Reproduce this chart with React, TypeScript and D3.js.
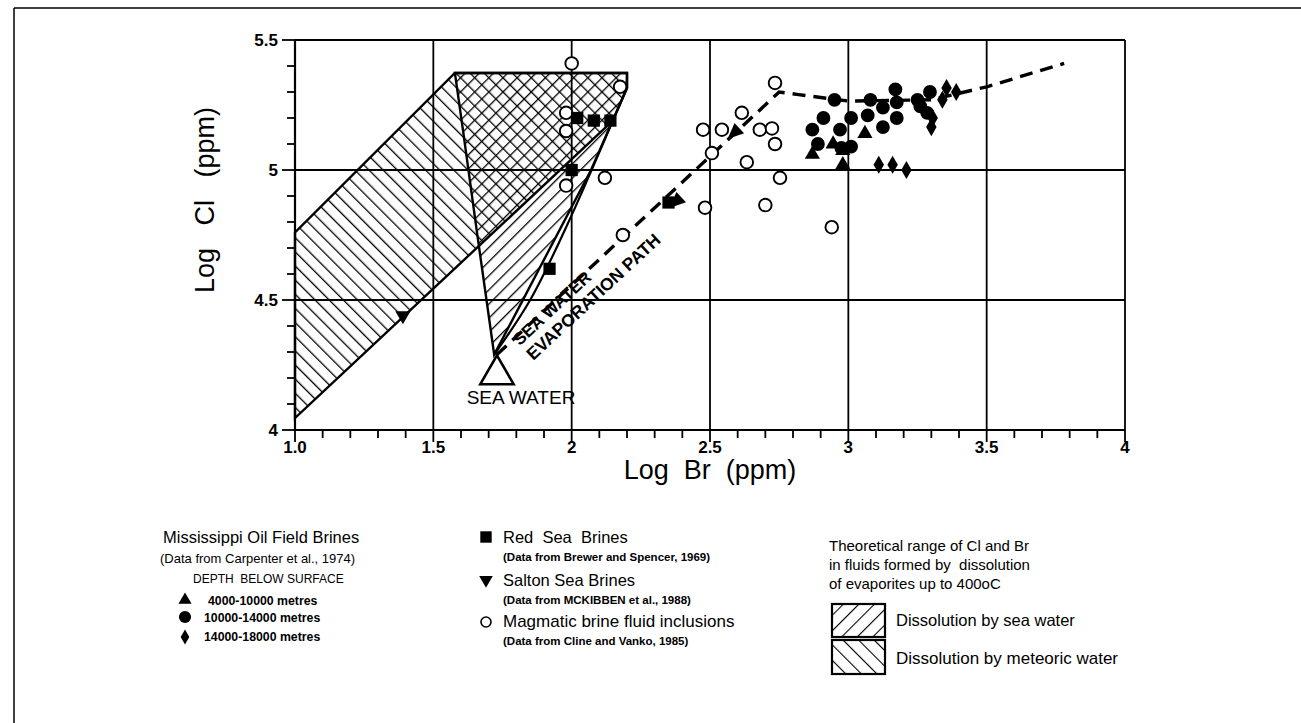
import React from "react";
import * as d3 from "d3";

const W = 1301;
const H = 723;

// Axis ticks
const xTicks = [1.0, 1.5, 2, 2.5, 3, 3.5, 4];
const xTickLabels = ["1.0", "1.5", "2", "2.5", "3", "3.5", "4"];
const yTicks = [4, 4.5, 5, 5.5];
const yTickLabels = ["4", "4.5", "5", "5.5"];

// Mississippi oil field brines by depth (log Br, log Cl)
const depth4to10: [number, number][] = [
  [2.87, 5.06], [2.945, 5.1], [3.06, 5.14], [2.98, 5.02], [2.98, 5.075],
];
const depth10to14: [number, number][] = [
  [2.95, 5.27], [2.91, 5.2], [2.87, 5.155], [2.89, 5.1], [2.97, 5.155],
  [3.01, 5.2], [3.01, 5.09], [3.07, 5.21], [3.08, 5.27], [3.125, 5.24],
  [3.125, 5.165], [3.17, 5.31], [3.175, 5.26], [3.175, 5.2], [3.25, 5.27],
  [3.26, 5.245], [3.295, 5.3], [3.285, 5.22], [2.975, 5.085],
];
const depth14to18: [number, number][] = [
  [3.11, 5.02], [3.16, 5.02], [3.21, 5.0], [3.3, 5.165], [3.34, 5.27],
  [3.355, 5.315], [3.39, 5.3], [3.305, 5.2],
];

// Red Sea brines
const redSea: [number, number][] = [
  [2.0, 5.0], [1.92, 4.62], [2.35, 4.875], [2.02, 5.2], [2.08, 5.19], [2.14, 5.19],
];

// Salton Sea brines
const saltonSea: [number, number][] = [[1.39, 4.44]];

// Magmatic brine fluid inclusions
const magmatic: [number, number][] = [
  [2.0, 5.41], [2.175, 5.32], [1.98, 5.22], [1.98, 5.15], [2.12, 4.97],
  [1.98, 4.94], [2.185, 4.75], [2.735, 5.335], [2.615, 5.22], [2.475, 5.155],
  [2.543, 5.155], [2.68, 5.155], [2.724, 5.16], [2.735, 5.1], [2.507, 5.065],
  [2.633, 5.03], [2.753, 4.97], [2.482, 4.855], [2.7, 4.865], [2.94, 4.78],
];

// Sea water reference point
const seaWater: [number, number] = [1.73, 4.29];

// Sea water evaporation path
const evaporationPath: [number, number][] = [
  [1.73, 4.29], [2.75, 5.3], [2.82, 5.29], [3.0, 5.265], [3.3, 5.27],
  [3.5, 5.32], [3.78, 5.41],
];
const pathArrows: [number, number][] = [[2.59, 5.145], [2.38, 4.88]];

// Theoretical dissolution ranges
const meteoricRange: [number, number][] = [
  [1.0, 4.046], [1.0, 4.76], [1.578, 5.373], [2.2, 5.373], [2.2, 5.315], [2.149, 5.19],
];
const seaWaterRange: [number, number][] = [
  [1.578, 5.373], [2.2, 5.373], [2.2, 5.315], [2.07, 5.0], [1.72, 4.29],
  [1.658, 4.758], [1.607, 5.154],
];
const seaWaterInner: [number, number][] = [
  [2.149, 5.19], [1.98, 4.78], [1.85, 4.5], [1.72, 4.29],
];

const FONT = "'Liberation Sans', Arial, Helvetica, sans-serif";

export default function App() {
  const x = d3.scaleLinear().domain([1, 4]).range([295, 1125]);
  const y = d3.scaleLinear().domain([4, 5.5]).range([430, 40]);

  const line = d3.line<[number, number]>().x((d) => x(d[0])).y((d) => y(d[1]));
  const curve = d3
    .line<[number, number]>()
    .x((d) => x(d[0]))
    .y((d) => y(d[1]))
    .curve(d3.curveCatmullRom);

  const sym = (type: d3.SymbolType, size: number) => d3.symbol().type(type).size(size)()!;
  const circlePath = sym(d3.symbolCircle, 150);
  const triPath = sym(d3.symbolTriangle, 100);
  const diamondPath = sym(d3.symbolDiamond, 95);
  const squarePath = sym(d3.symbolSquare, 150);

  const minorX = d3.range(1, 4.0001, 0.1).map((v) => +v.toFixed(2));
  const minorY = d3.range(4, 5.5001, 0.1).map((v) => +v.toFixed(2));

  // evaporation direction angle in screen space
  const p0 = evaporationPath[0];
  const p1 = evaporationPath[1];
  const ang = (Math.atan2(y(p1[1]) - y(p0[1]), x(p1[0]) - x(p0[0])) * 180) / Math.PI;

  return (
    <svg
      width={W}
      height={H}
      style={{ position: "absolute", left: 0, top: 0, background: "#fff" }}
      fontFamily={FONT}
    >
      <defs>
        <pattern id="hatchFwd" width="10" height="10" patternUnits="userSpaceOnUse" patternTransform="rotate(45)">
          <line x1="0" y1="0" x2="0" y2="10" stroke="#000" strokeWidth="2.6" />
        </pattern>
        <pattern id="hatchBack" width="10" height="10" patternUnits="userSpaceOnUse" patternTransform="rotate(-45)">
          <line x1="0" y1="0" x2="0" y2="10" stroke="#000" strokeWidth="2.6" />
        </pattern>
        <pattern id="legFwd" width="11" height="11" patternUnits="userSpaceOnUse" patternTransform="rotate(45)">
          <line x1="0" y1="0" x2="0" y2="11" stroke="#000" strokeWidth="2.2" />
        </pattern>
        <pattern id="legBack" width="11" height="11" patternUnits="userSpaceOnUse" patternTransform="rotate(-45)">
          <line x1="0" y1="0" x2="0" y2="11" stroke="#000" strokeWidth="2.2" />
        </pattern>
      </defs>

      {/* page frame */}
      <line x1={14} y1={8} x2={W} y2={8} stroke="#000" strokeWidth={1.5} />
      <line x1={14} y1={8} x2={14} y2={H} stroke="#000" strokeWidth={1.5} />

      {/* grid */}
      {xTicks.slice(1).map((t) => (
        <line key={"gx" + t} x1={x(t)} x2={x(t)} y1={y(5.5)} y2={y(4)} stroke="#000" strokeWidth={1.8} />
      ))}
      {yTicks.slice(1).map((t) => (
        <line key={"gy" + t} x1={x(1)} x2={x(4)} y1={y(t)} y2={y(t)} stroke="#000" strokeWidth={1.8} />
      ))}

      {/* theoretical ranges */}
      <path d={line(meteoricRange)! + "Z"} fill="url(#hatchBack)" stroke="#000" strokeWidth={2.4} />
      <path d={line(seaWaterRange)! + "Z"} fill="url(#hatchFwd)" stroke="#000" strokeWidth={2.4} />
      <path d={curve(seaWaterInner)!} fill="none" stroke="#000" strokeWidth={2.2} />

      {/* axes */}
      <line x1={x(1)} x2={x(1)} y1={y(5.5)} y2={y(4)} stroke="#000" strokeWidth={2.2} />
      <line x1={x(1)} x2={x(4)} y1={y(4)} y2={y(4)} stroke="#000" strokeWidth={2.2} />
      {minorX.map((t) => {
        const major = Math.abs(t * 2 - Math.round(t * 2)) < 1e-6;
        return <line key={"tx" + t} x1={x(t)} x2={x(t)} y1={y(4)} y2={y(4) + (major ? 12 : 8)} stroke="#000" strokeWidth={1.8} />;
      })}
      {minorY.map((t) => {
        const major = Math.abs(t * 2 - Math.round(t * 2)) < 1e-6;
        return <line key={"ty" + t} x1={x(1) - (major ? 13 : 8)} x2={x(1)} y1={y(t)} y2={y(t)} stroke="#000" strokeWidth={1.8} />;
      })}
      {xTicks.map((t, i) => (
        <text key={"lx" + t} x={x(t)} y={y(4) + 23} textAnchor="middle" fontSize={17} fontWeight="bold">
          {xTickLabels[i]}
        </text>
      ))}
      {yTicks.map((t, i) => (
        <text key={"ly" + t} x={x(1) - 17} y={y(t) + 6} textAnchor="end" fontSize={17} fontWeight="bold">
          {yTickLabels[i]}
        </text>
      ))}
      <text x={710} y={479} textAnchor="middle" fontSize={27} xmlSpace="preserve">
        {"Log  Br  (ppm)"}
      </text>
      <text transform="translate(214,200) rotate(-90)" textAnchor="middle" fontSize={27} xmlSpace="preserve">
        {"Log   Cl   (ppm)"}
      </text>

      {/* evaporation path */}
      <path d={line(evaporationPath)!} fill="none" stroke="#000" strokeWidth={3.4} strokeDasharray="13 8" />
      {pathArrows.map((d, i) => (
        <path
          key={"ar" + i}
          d="M-10,0 L6,-7 L6,7 Z"
          transform={`translate(${x(d[0])},${y(d[1])}) rotate(${ang})`}
          fill="#000"
        />
      ))}
      <g transform={`translate(552,308) rotate(${ang})`}>
        <text x={0} y={6} textAnchor="middle" fontSize={17} fontWeight="bold">SEA WATER</text>
        <text x={38} y={26} textAnchor="middle" fontSize={17.5} fontWeight="bold">EVAPORATION PATH</text>
      </g>

      {/* sea water */}
      <path
        d={sym(d3.symbolTriangle, 480)}
        transform={`translate(${x(seaWater[0])},${y(seaWater[1]) + 20})`}
        fill="none"
        stroke="#000"
        strokeWidth={2.6}
      />
      <text x={521} y={404} textAnchor="middle" fontSize={19}>SEA WATER</text>

      {/* data points */}
      {magmatic.map((d, i) => (
        <circle key={"m" + i} cx={x(d[0])} cy={y(d[1])} r={6.3} fill="#fff" stroke="#000" strokeWidth={1.9} />
      ))}
      {depth10to14.map((d, i) => (
        <path key={"c" + i} d={circlePath} transform={`translate(${x(d[0])},${y(d[1])})`} fill="#000" />
      ))}
      {depth4to10.map((d, i) => (
        <path key={"t" + i} d={triPath} transform={`translate(${x(d[0])},${y(d[1])})`} fill="#000" />
      ))}
      {depth14to18.map((d, i) => (
        <path key={"d" + i} d={diamondPath} transform={`translate(${x(d[0])},${y(d[1])})`} fill="#000" />
      ))}
      {redSea.map((d, i) => (
        <path key={"r" + i} d={squarePath} transform={`translate(${x(d[0])},${y(d[1])})`} fill="#000" />
      ))}
      {saltonSea.map((d, i) => (
        <path key={"s" + i} d={triPath} transform={`translate(${x(d[0])},${y(d[1])}) rotate(180)`} fill="#000" />
      ))}

      {/* legend column 1 */}
      <g fill="#000">
        <text x={163} y={543} fontSize={16.5}>Mississippi Oil Field Brines</text>
        <text x={160} y={563} fontSize={13}>(Data from Carpenter et al., 1974)</text>
        <text x={193} y={583} fontSize={12} xmlSpace="preserve">{"DEPTH  BELOW SURFACE"}</text>
        <path d={sym(d3.symbolTriangle, 75)} transform="translate(185,600)" />
        <text x={208} y={605} fontSize={12.3} fontWeight="bold">4000-10000 metres</text>
        <path d={sym(d3.symbolCircle, 115)} transform="translate(185,617)" />
        <text x={204} y={622} fontSize={12.3} fontWeight="bold">10000-14000 metres</text>
        <path d={sym(d3.symbolDiamond, 65)} transform="translate(185,637)" />
        <text x={204} y={641} fontSize={12.3} fontWeight="bold">14000-18000 metres</text>
      </g>

      {/* legend column 2 */}
      <g fill="#000">
        <path d={sym(d3.symbolSquare, 130)} transform="translate(486,537)" />
        <text x={503} y={543} fontSize={16.5} xmlSpace="preserve">{"Red  Sea  Brines"}</text>
        <text x={503} y={561} fontSize={11.5} fontWeight="bold">(Data from Brewer and Spencer, 1969)</text>
        <path d={sym(d3.symbolTriangle, 80)} transform="translate(486,580) rotate(180)" />
        <text x={503} y={586} fontSize={16.5}>Salton Sea Brines</text>
        <text x={503} y={604} fontSize={11.5} fontWeight="bold">(Data from MCKIBBEN et al., 1988)</text>
        <circle cx={486} cy={622} r={5} fill="#fff" stroke="#000" strokeWidth={1.6} />
        <text x={503} y={627} fontSize={17}>Magmatic brine fluid inclusions</text>
        <text x={503} y={645} fontSize={11.5} fontWeight="bold">(Data from Cline and Vanko, 1985)</text>
      </g>

      {/* legend column 3 */}
      <g fill="#000">
        <text x={829} y={551} fontSize={15}>Theoretical range of Cl and Br</text>
        <text x={829} y={570} fontSize={15} xmlSpace="preserve">{"in fluids formed by  dissolution"}</text>
        <text x={829} y={589} fontSize={15}>of evaporites up to 400oC</text>
        <rect x={832} y={604} width={53} height={33} fill="url(#legFwd)" stroke="#000" strokeWidth={2.2} />
        <text x={896} y={626} fontSize={16.5}>Dissolution by sea water</text>
        <rect x={832} y={640} width={53} height={34} fill="url(#legBack)" stroke="#000" strokeWidth={2.2} />
        <text x={896} y={664} fontSize={17}>Dissolution by meteoric water</text>
      </g>
    </svg>
  );
}
